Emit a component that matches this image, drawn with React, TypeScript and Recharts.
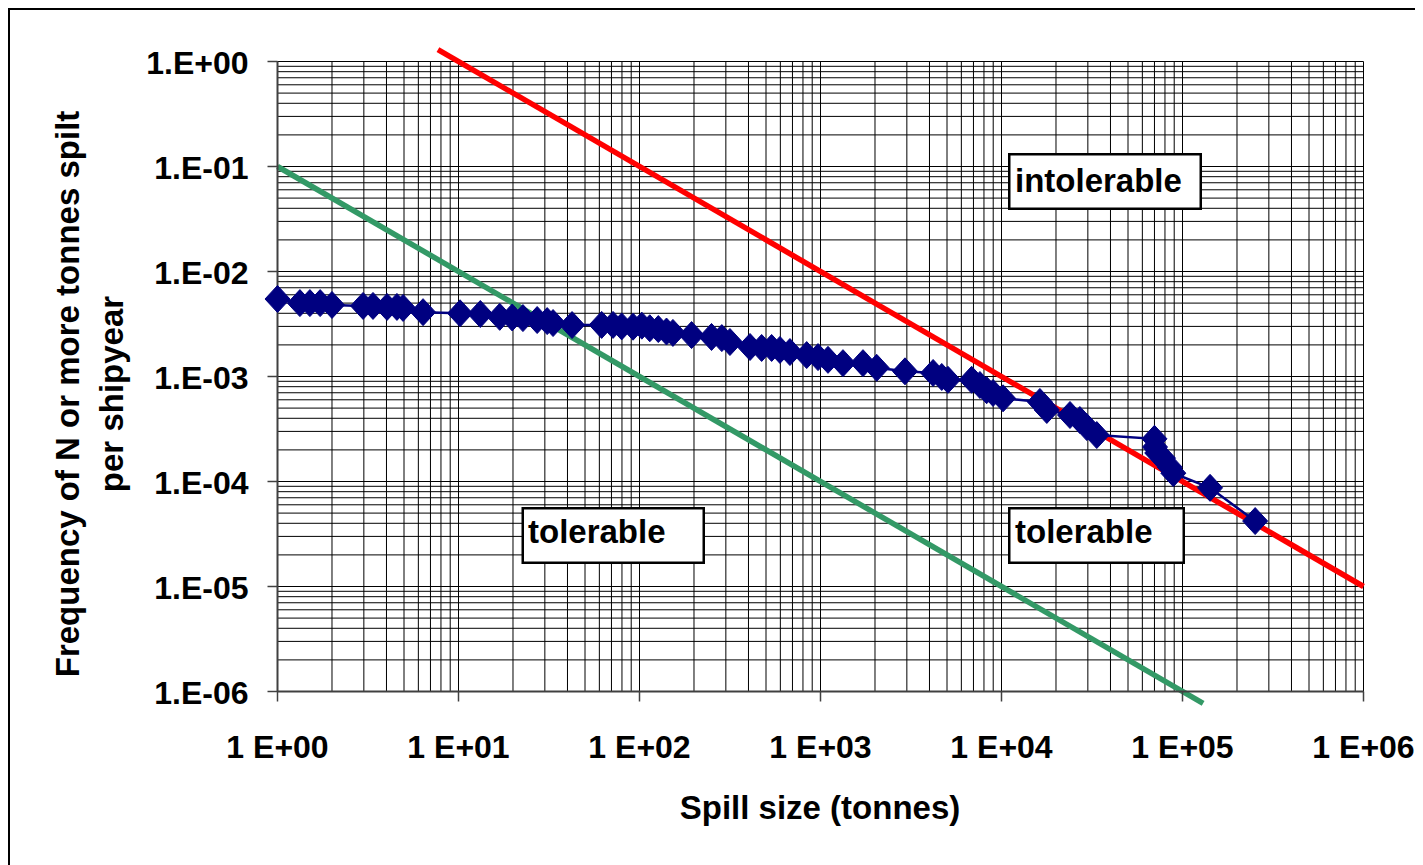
import { ComposedChart, Scatter, XAxis, YAxis, CartesianGrid, ReferenceLine } from 'recharts';

const FONT = '"Liberation Sans", Arial, sans-serif';

// axis decades and labels
const xMajor = [1, 10, 100, 1000, 10000, 100000, 1000000];
const xTickLabels = ['1 E+00', '1 E+01', '1 E+02', '1 E+03', '1 E+04', '1 E+05', '1 E+06'];
const yMajor = [1e-6, 1e-5, 1e-4, 1e-3, 1e-2, 1e-1, 1];
const yTickLabels = ['1.E-06', '1.E-05', '1.E-04', '1.E-03', '1.E-02', '1.E-01', '1.E+00'];

// spill size (tonnes) vs frequency of N or more tonnes spilt per shipyear
const spillSize = [
    1, 1.33, 1.51, 1.72, 2.0, 2.97, 3.37, 4.03, 4.57, 4.94, 6.37,
    10.2, 13.2, 16.9, 19.8, 22.7, 27.2, 30.9, 33.3, 42.4,
    61.8, 71.4, 79.7, 92.1, 103, 114, 127, 141, 153, 194, 250, 285, 316,
    408, 473, 537, 597, 678, 839, 969, 1100, 1331, 1717, 2044, 2930,
    4190, 4677, 5060, 6840, 7600, 8280, 8980, 10200,
    16300, 17800, 23900, 27100, 29600, 33600,
    70000, 70500, 72500, 78000, 85000, 89000, 142000, 252000,
];
const frequency = [
    5.47e-3, 5.0e-3, 5.0e-3, 5.0e-3, 4.8e-3, 4.7e-3, 4.7e-3, 4.6e-3, 4.6e-3, 4.5e-3, 4.1e-3,
    4.0e-3, 3.94e-3, 3.7e-3, 3.65e-3, 3.6e-3, 3.45e-3, 3.37e-3, 3.23e-3, 3.09e-3,
    3.1e-3, 3.1e-3, 3.0e-3, 2.98e-3, 3.05e-3, 2.88e-3, 2.83e-3, 2.68e-3, 2.6e-3, 2.48e-3, 2.38e-3, 2.32e-3, 2.13e-3,
    1.91e-3, 1.87e-3, 1.87e-3, 1.79e-3, 1.71e-3, 1.6e-3, 1.53e-3, 1.44e-3, 1.34e-3, 1.34e-3, 1.21e-3, 1.12e-3,
    1.08e-3, 9.9e-4, 9.3e-4, 9.3e-4, 8.3e-4, 7.4e-4, 6.97e-4, 6.2e-4,
    5.72e-4, 4.8e-4, 4.3e-4, 3.85e-4, 3.3e-4, 2.77e-4,
    2.55e-4, 2.13e-4, 1.87e-4, 1.67e-4, 1.37e-4, 1.2e-4, 8.7e-5, 4.2e-5,
];

// criteria lines (end points)
const intolerableX = [7.7, 1000000];
const intolerableY = [1.3, 1e-5];
const tolerableX = [1, 130000];
const tolerableY = [0.1, 7.7e-7];

// minor gridlines 1..9 per decade
const xGrid: number[] = [];
for (let d = 0; d < 6; d++) for (let m = 1; m < 10; m++) xGrid.push(m * xMajor[d]);
xGrid.push(1000000);
const yGrid: number[] = [];
for (let d = 0; d < 6; d++) for (let m = 1; m < 10; m++) yGrid.push(m * yMajor[d]);
yGrid.push(1);

const data = spillSize.map((x, i) => ({ x, y: frequency[i] }));

const XTick = (props: any) => {
    const { x, y, payload } = props;
    const i = xMajor.indexOf(payload.value);
    if (i < 0) return <g />;
    return <g>
        <line x1={x} x2={x} y1={y - 10} y2={y} stroke="#404040" strokeWidth={1.5} />
        <text x={x} y={y + 56.8} textAnchor="middle" fontSize={32} fontWeight="bold" fontFamily={FONT} fill="#000">{xTickLabels[i]}</text>
    </g>;
};

const YTick = (props: any) => {
    const { x, y, payload } = props;
    const i = yMajor.indexOf(payload.value);
    if (i < 0) return <g />;
    return <g>
        <line x1={x} x2={x + 10} y1={y} y2={y} stroke="#404040" strokeWidth={1.5} />
        <text x={x - 19} y={y + 12.5} textAnchor="end" fontSize={32} fontWeight="bold" fontFamily={FONT} fill="#000">{yTickLabels[i]}</text>
    </g>;
};

const Diamond = (props: any) => {
    const { cx, cy } = props;
    return <polygon points={`${cx},${cy - 13.5} ${cx + 12.5},${cy} ${cx},${cy + 13.5} ${cx - 12.5},${cy}`} fill="#000080" stroke="#000080" strokeWidth={1} />;
};

const YLabel = () => <g fontFamily={FONT} fontSize={33} fontWeight="bold" fill="#000">
    <text x={69} y={384} textAnchor="middle" transform="rotate(-90 69 384)">Frequency of N or more tonnes spilt</text>
    <text x={113} y={384} textAnchor="middle" transform="rotate(-90 113 384)">per shipyear</text>
</g>;

const XLabel = () => <text x={810} y={809} textAnchor="middle" fontFamily={FONT} fontSize={33} fontWeight="bold" fill="#000">Spill size (tonnes)</text>;

const boxes = [
    { text: 'intolerable', x: 998, y: 143, w: 194, h: 57, tx: 1005, ty: 181.7 },
    { text: 'tolerable', x: 511.5, y: 497, w: 183.5, h: 57, tx: 518, ty: 533.3 },
    { text: 'tolerable', x: 998, y: 497, w: 177, h: 57, tx: 1005, ty: 533.3 },
];

const App = () => {
    return <div style={{ position: 'relative', width: 1413, height: 855, borderLeft: '2px solid #000', borderTop: '2px solid #000' }}>
        <ComposedChart width={1413} height={855} margin={{ top: 51.5, right: 59.5, bottom: 0, left: 0 }}>
            <CartesianGrid stroke="#000" strokeWidth={1} />
            <XAxis dataKey="x" type="number" scale="log" domain={[1, 1000000]}
                ticks={xGrid} interval={0} tickSize={10} tickMargin={0} tickLine={false}
                axisLine={{ stroke: '#404040', strokeWidth: 2 }} tick={<XTick />} height={173.5}
                label={{ content: <XLabel /> }} />
            <YAxis dataKey="y" type="number" scale="log" domain={[1e-6, 1]}
                ticks={yGrid} interval={0} tickSize={10} tickMargin={0} tickLine={false}
                axisLine={{ stroke: '#404040', strokeWidth: 2 }} tick={<YTick />} width={267.5}
                label={{ content: <YLabel /> }} />
            <ReferenceLine segment={[{ x: tolerableX[0], y: tolerableY[0] }, { x: tolerableX[1], y: tolerableY[1] }]}
                stroke="#339966" strokeWidth={5.5} ifOverflow="visible" />
            <ReferenceLine segment={[{ x: intolerableX[0], y: intolerableY[0] }, { x: intolerableX[1], y: intolerableY[1] }]}
                stroke="#FF0000" strokeWidth={5.5} ifOverflow="visible" />
            <Scatter data={data} dataKey="y" fill="#000080" shape={<Diamond />}
                line={{ stroke: '#000080', strokeWidth: 2.5 }} isAnimationActive={false} />
        </ComposedChart>
        <svg width={1413} height={855} style={{ position: 'absolute', left: 0, top: 0, pointerEvents: 'none' }}>
            {boxes.map((b, i) => <g key={i}>
                <rect x={b.x + 1.25} y={b.y + 1.25} width={b.w - 2.5} height={b.h - 2.5} fill="#fff" stroke="#000" strokeWidth={2.5} />
                <text x={b.tx} y={b.ty} fontFamily={FONT} fontSize={33} fontWeight="bold" fill="#000">{b.text}</text>
            </g>)}
        </svg>
    </div>;
};

export default App;
